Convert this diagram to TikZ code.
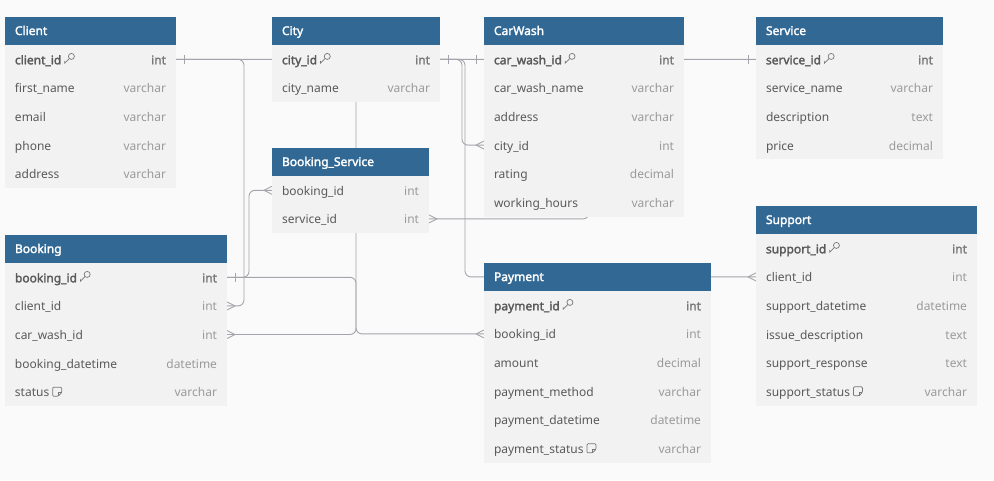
\documentclass[tikz,border=0pt]{standalone}
\usepackage{fontspec}
\setmainfont{Noto Sans}[AutoFakeBold=2.2]
\usepackage{tikz}
\usetikzlibrary{positioning}

\definecolor{hdrblue}{HTML}{316894}
\definecolor{rowgray}{HTML}{F2F2F2}
\definecolor{canvasbg}{HTML}{FAFAFA}
\definecolor{namegray}{HTML}{5A5A5A}
\definecolor{typegray}{HTML}{9A9A9A}
\definecolor{pktypegray}{HTML}{7A7A7A}
\definecolor{icongray}{HTML}{777777}
\definecolor{linegray}{HTML}{A4A4AC}

\pgfdeclarelayer{background}
\pgfsetlayers{background,main}

% crow's foot ends
\pgfarrowsdeclare{ermany}{ermany}
{\pgfarrowsleftextend{-8pt}\pgfarrowsrightextend{0pt}}
{\pgfpathmoveto{\pgfpoint{-8pt}{0pt}}\pgfpathlineto{\pgfpoint{0pt}{4pt}}
 \pgfpathmoveto{\pgfpoint{-8pt}{0pt}}\pgfpathlineto{\pgfpoint{0pt}{-4pt}}
 \pgfusepathqstroke}
\pgfarrowsdeclare{erone}{erone}
{\pgfarrowsleftextend{-9pt}\pgfarrowsrightextend{0pt}}
{\pgfpathmoveto{\pgfpoint{-8pt}{-4.5pt}}\pgfpathlineto{\pgfpoint{-8pt}{4.5pt}}
 \pgfusepathqstroke}

\newcommand{\tabfont}{\fontsize{12pt}{14pt}\selectfont}
\newcommand{\typ}[1]{\textcolor{typegray}{#1}}
\newcommand{\pktyp}[1]{\textcolor{pktypegray}{#1}}
\newcommand{\keyicon}{\hspace{3pt}\tikz[x=1pt,y=1pt,baseline=-0.5pt,line width=0.7pt]{
  \draw[icongray] (7.4,7.4) circle (3);
  \draw[icongray] (5.3,5.3) -- (0.6,0.6) -- (0.6,3);}}
\newcommand{\noteicon}{\hspace{3pt}\tikz[x=1pt,y=1pt,baseline=-0.5pt,line width=0.7pt]{
  \draw[icongray, rounded corners=1pt] (0,0) -- (0,9) -- (9,9) -- (9,3.5) -- (5.5,0) -- cycle;
  \draw[icongray] (9,3.5) -- (5.5,3.5) -- (5.5,0);}}

\tikzstyle{header} = [rectangle, fill=hdrblue, text=white, font=\tabfont\bfseries,
    minimum height=28pt, text height=10pt, text depth=2pt,
    inner xsep=10pt, inner ysep=0pt, outer sep=0pt, anchor=north west]
\tikzstyle{field} = [rectangle, fill=rowgray, text=namegray, font=\tabfont,
    minimum height=28.6pt, text height=10.5pt, text depth=0.5pt,
    inner xsep=10pt, inner ysep=0pt, outer sep=0pt]
\tikzstyle{pkfield} = [field, font=\tabfont\bfseries]
\tikzstyle{rel} = [draw=linegray, line width=0.9pt, rounded corners=6pt]

\begin{document}
\begin{tikzpicture}[x=1pt, y=-1pt, node distance=0pt]
    \useasboundingbox (0,0) rectangle (994,480);
    % Client
    \begin{scope}[every node/.append style={text width=151pt}]
        \node [header] (cl-hd) at (5,17) {Client};
        \node [pkfield, below=of cl-hd] (cl-id) {client\_id\keyicon\hfill\pktyp{int}};
        \node [field, below=of cl-id] (cl-first) {first\_name\hfill\typ{varchar}};
        \node [field, below=of cl-first] (cl-email) {email\hfill\typ{varchar}};
        \node [field, below=of cl-email] (cl-phone) {phone\hfill\typ{varchar}};
        \node [field, below=of cl-phone] (cl-addr) {address\hfill\typ{varchar}};
    \end{scope}
    % City
    \begin{scope}[every node/.append style={text width=148pt}]
        \node [header] (ct-hd) at (272,17) {City};
        \node [pkfield, below=of ct-hd] (ct-id) {city\_id\keyicon\hfill\pktyp{int}};
        \node [field, below=of ct-id] (ct-name) {city\_name\hfill\typ{varchar}};
    \end{scope}
    % CarWash
    \begin{scope}[every node/.append style={text width=180pt}]
        \node [header] (cw-hd) at (484,17) {CarWash};
        \node [pkfield, below=of cw-hd] (cw-id) {car\_wash\_id\keyicon\hfill\pktyp{int}};
        \node [field, below=of cw-id] (cw-name) {car\_wash\_name\hfill\typ{varchar}};
        \node [field, below=of cw-name] (cw-addr) {address\hfill\typ{varchar}};
        \node [field, below=of cw-addr] (cw-city) {city\_id\hfill\typ{int}};
        \node [field, below=of cw-city] (cw-rating) {rating\hfill\typ{decimal}};
        \node [field, below=of cw-rating] (cw-hours) {working\_hours\hfill\typ{varchar}};
    \end{scope}
    % Service
    \begin{scope}[every node/.append style={text width=167pt}]
        \node [header] (sv-hd) at (756,17) {Service};
        \node [pkfield, below=of sv-hd] (sv-id) {service\_id\keyicon\hfill\pktyp{int}};
        \node [field, below=of sv-id] (sv-name) {service\_name\hfill\typ{varchar}};
        \node [field, below=of sv-name] (sv-desc) {description\hfill\typ{text}};
        \node [field, below=of sv-desc] (sv-price) {price\hfill\typ{decimal}};
    \end{scope}
    % Booking_Service
    \begin{scope}[every node/.append style={text width=137pt}]
        \node [header] (bs-hd) at (272,148) {Booking\_Service};
        \node [field, below=of bs-hd] (bs-bk) {booking\_id\hfill\typ{int}};
        \node [field, below=of bs-bk] (bs-svc) {service\_id\hfill\typ{int}};
    \end{scope}
    % Booking
    \begin{scope}[every node/.append style={text width=202pt}]
        \node [header] (bk-hd) at (5,235) {Booking};
        \node [pkfield, below=of bk-hd] (bk-id) {booking\_id\keyicon\hfill\pktyp{int}};
        \node [field, below=of bk-id] (bk-client) {client\_id\hfill\typ{int}};
        \node [field, below=of bk-client] (bk-cw) {car\_wash\_id\hfill\typ{int}};
        \node [field, below=of bk-cw] (bk-date) {booking\_datetime\hfill\typ{datetime}};
        \node [field, below=of bk-date] (bk-status) {status\noteicon\hfill\typ{varchar}};
    \end{scope}
    % Payment
    \begin{scope}[every node/.append style={text width=207pt}]
        \node [header] (pm-hd) at (484,263) {Payment};
        \node [pkfield, below=of pm-hd] (pm-id) {payment\_id\keyicon\hfill\pktyp{int}};
        \node [field, below=of pm-id] (pm-bk) {booking\_id\hfill\typ{int}};
        \node [field, below=of pm-bk] (pm-amount) {amount\hfill\typ{decimal}};
        \node [field, below=of pm-amount] (pm-method) {payment\_method\hfill\typ{varchar}};
        \node [field, below=of pm-method] (pm-date) {payment\_datetime\hfill\typ{datetime}};
        \node [field, below=of pm-date] (pm-status) {payment\_status\noteicon\hfill\typ{varchar}};
    \end{scope}
    % Support
    \begin{scope}[every node/.append style={text width=201pt}]
        \node [header] (sp-hd) at (756,206) {Support};
        \node [pkfield, below=of sp-hd] (sp-id) {support\_id\keyicon\hfill\pktyp{int}};
        \node [field, below=of sp-id] (sp-client) {client\_id\hfill\typ{int}};
        \node [field, below=of sp-client] (sp-date) {support\_datetime\hfill\typ{datetime}};
        \node [field, below=of sp-date] (sp-issue) {issue\_description\hfill\typ{text}};
        \node [field, below=of sp-issue] (sp-resp) {support\_response\hfill\typ{text}};
        \node [field, below=of sp-resp] (sp-status) {support\_status\noteicon\hfill\typ{varchar}};
    \end{scope}
    % Draw edges
    \begin{pgfonlayer}{background}
        \fill [canvasbg] (0,0) rectangle (994,480);
        \path [rel, erone-ermany] (cl-id.east) -| ([xshift=17pt]bk-client.east) -- (bk-client.east);
        \path [rel, ermany-] (sp-client.west) -- ([xshift=-19pt]pm-hd.west |- sp-client.west) |- (cl-id.east);
        \path [rel, erone-ermany] (ct-id.east) -| ([xshift=-22pt]cw-city.west) -- (cw-city.west);
        \path [rel, ermany-erone] (bk-cw.east) -| (ct-id.center) -- (cw-id.west);
        \path [rel, erone-ermany] (bk-id.east) -| (ct-id.center |- pm-bk.west) -- (pm-bk.west);
        \path [rel, ermany-] (bs-bk.west) -| ([xshift=22pt]bk-id.east) -- (bk-id.east);
        \path [rel, ermany-erone] (bs-svc.east) -| ([xshift=5pt]cw-id.center) -- (sv-id.west);
    \end{pgfonlayer}
\end{tikzpicture}
\end{document}
